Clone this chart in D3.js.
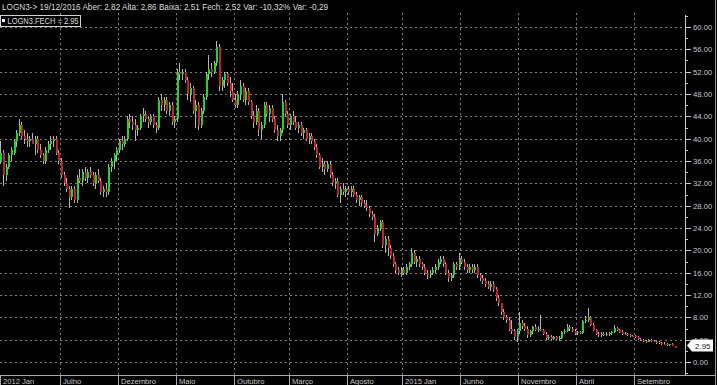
<!DOCTYPE html>
<html><head><meta charset="utf-8">
<script src="https://cdn.jsdelivr.net/npm/d3@7"></script>
<style>html,body{margin:0;padding:0;background:#000;overflow:hidden}</style>
</head><body><svg id="c" width="717" height="385"></svg>
<script>
// ---- DATA (weekly candles, LOGN3) ----
const firstWeek = "2012-01-23";
const opens = [
36,37.5,33.5,35,37,37.5,39.5,41,42.5,40.5,
40,39.5,40,39,40,38,37,36,38,39,
39.5,40,37.5,36,33.5,32,31,29.5,31,29,
33,32.5,34,33,34,33.5,32,33.5,32.5,30.5,
31,30.5,35,36,37,38,39.5,39,40,43.5,
43,42.5,41.5,42,44,44.5,43.5,43,44,42.5,
42,47,46,47,45,46,43,43.5,52,51.5,
52,50.5,48,49,45,46,42.5,45,47.5,51.5,
52.5,52,53.5,56.5,49.5,50.5,51.5,50,48.5,47,
46,48,49.5,47,48.5,46.5,44,43,45,41.5,
42.5,46,44.5,45.5,43.5,41.5,40.5,41.5,46.5,44.5,
42.5,44,43,42,42.5,41,41.5,40,40.5,39.5,
38.5,37,35,35.5,34.5,35.5,33.5,32,32.5,30,
31,30.5,31,30.5,31,30,29,29.5,28.5,28,
27.5,26.5,26,23,24,25,21,22,20.5,19,
17.5,16.5,16,16.5,16,17,17.5,19.5,18,18.5,
17.5,17,16,15.5,16,16.5,17,18,18.5,17.5,
16,15,15.5,17.5,17,18.5,18,17,16.5,17,
16.5,17,15.5,15,14.5,14,13.5,14,13,11.5,
10.5,9,8,7.5,6,5.5,4.5,5.5,7,6.5,
6,4.8,5.5,6.2,5.8,6,5.8,5,4.3,4.5,
4.2,4.4,4.2,4.3,5.3,5.6,6.2,6,5.5,5.2,
5.3,5.2,7.3,7.6,8,6.7,5.8,5,4.8,5.1,
4.9,5,5.2,5.4,6.1,5.7,5.4,5.1,5,4.8,
4.7,4.6,4.5,4.1,3.9,3.7,3.6,3.9,3.8,3.6,
3.5,3.4,3.3,3.2,3.1,3.2,2.82];
const highs = [
39.5,38,35.5,37.5,38.5,40,41.5,43.5,43,41.5,
41,40.5,41,40.5,40.5,39,37.5,38.5,39.5,40.5,
40.5,40.5,38,36.5,34,33,31.5,31.5,31.5,33.5,
34.5,34.5,35,34.5,35,34,34,34.5,33,31.5,
32,35.5,36.5,37.5,38.5,40,40.5,40.5,44,44.5,
44,43.5,42.5,44.5,45.5,45,44,44.5,44.5,43,
47.5,48,47.5,47.5,46.5,46.5,44,52.5,53.5,52.5,
52.5,51,50,49.5,47,46.5,45.5,48,52,55,
53.5,54,57.5,57,51,52,52,51,50,48,
48.5,50.5,50,49,49,47,45,46,45.5,43,
46.5,46.5,46,46,44,42.5,42,48,47,45,
44.5,45,44,43,43,42,42,41,41,40,
39,37.5,36.5,36,36,36,34,33,33,31.5,
32,31.5,31.5,31.5,31.5,30.5,30,30,29,29,
28,27,26.5,24.5,25.5,25.5,22.5,22.5,21,19.5,
18,17,17,17,17.5,18,20.5,20,19,19,
18,17.5,16.5,16.5,17,17.5,18.5,19,19,18,
16.5,16,18,18,19.5,19,18.5,17.5,17.5,17.5,
17.5,17.5,16,15.5,15,14.5,14.5,14.5,13.5,12,
10.5,9.5,8.5,8,7.5,6,6,9,7.5,7,
6.5,5.8,6.5,6.8,6.5,8.5,6,5.3,4.8,4.8,
4.6,4.7,4.6,5.5,6,6.8,6.6,6.3,5.9,5.6,
5.6,7.6,8.3,9.6,8.2,7,6,5.4,5.4,5.3,
5.3,5.3,5.6,6.6,6.3,6,5.7,5.4,5.2,5,
4.9,4.8,4.6,4.3,4.1,3.9,4.1,4.1,4,3.8,
3.7,3.6,3.5,3.4,3.3,3.4,2.86];
const lows = [
35.5,31.5,32.5,34.5,36,37,38.5,40.5,40,39,
38.5,38.5,39,37,37.5,36.5,35.5,35.5,37.5,38,
38.5,37,35.5,33,31.5,30.5,27.5,29,28.5,28.5,
32,31.5,32.5,32,33,31.5,31,32,30,29.5,
29.5,30,34,34.5,36,37.5,38,38.5,39.5,42,
41.5,39.5,40.5,41.5,43,43,42,42.5,42,41,
41.5,45,45,44.5,44,42.5,42,43,50.5,50.5,
50,47,46.5,44.5,42,41.5,42,44.5,47,50.5,
51,51.5,53,48.5,48.5,49,49.5,47.5,46.5,45.5,
45.5,47,46.5,46,46,43.5,42,42.5,40.5,40,
42,44,43,43,41,39.5,39.5,41,44,42,
41.5,42.5,41.5,41,40.5,40,39.5,39,39,38,
36.5,34.5,34,33.5,34,33,31.5,31,29.5,28.5,
30,29.5,30,29.5,29.5,28.5,28,28,27.5,27,
26,25.5,21.5,22.5,23.5,20.5,19.5,19,18.5,17,
16,15.5,15.2,15.5,15.5,16.5,17,17.5,17,17,
16.5,15.5,14.8,15,15.5,16,16.5,17.5,17,15.5,
14.3,14.5,15,16.5,16.5,17.5,16.5,16,16,16,
16,15,14.5,14,13.5,13,12.8,12.5,11,10,
8.5,7.5,7,5.5,5,4,3.6,5,6,5.5,
4.3,4.5,5,5.5,5.3,5.5,4.8,4,3.9,3.9,
3.9,4,3.8,4.1,5,5.3,5.6,5.3,4.9,4.9,
5,5.1,7,7.2,6.5,5.5,4.8,4.5,4.5,4.6,
4.6,4.7,4.9,5.2,5.5,5.2,4.9,4.8,4.6,4.5,
4.4,4.3,3.9,3.7,3.5,3.4,3.5,3.6,3.5,3.3,
3.2,3.1,3,2.9,2.9,2.9,2.51];
const closes = [
37.5,33.5,35,37,38,39.5,41,42.5,40.5,40,
39.5,40,39,40,38,37,36,38,39,39.5,
40,37.5,36,33.5,32,31,29.5,31,29,33,
32.5,34,33,34,33.5,32,33.5,32.5,30.5,31,
30.5,35,36,37,38,39.5,39,40,43.5,43,
42.5,41.5,42,44,44.5,43.5,43,44,42.5,42,
47,46,47,45,46,43,43.5,52,51.5,52,
50.5,48,49,45,46,42.5,45,47.5,51.5,52.5,
52,53.5,56.5,49.5,50.5,51.5,50,48.5,47,46,
48,49.5,47,48.5,46.5,44,43,45,41.5,42.5,
46,44.5,45.5,43.5,41.5,40.5,41.5,46.5,44.5,42.5,
44,43,42,42.5,41,41.5,40,40.5,39.5,38.5,
37,35,35.5,34.5,35.5,33.5,32,32.5,30,31,
30.5,31,30.5,31,30,29,29.5,28.5,28,27.5,
26.5,26,23,24,25,21,22,20.5,19,17.5,
16.5,16,16.5,16,17,17.5,19.5,18,18.5,17.5,
17,16,15.5,16,16.5,17,18,18.5,17.5,16,
15,15.5,17.5,17,18.5,18,17,16.5,17,16.5,
17,15.5,15,14.5,14,13.5,14,13,11.5,10.5,
9,8,7.5,6,5.5,4.5,5.5,7,6.5,6,
4.8,5.5,6.2,5.8,6,5.8,5,4.3,4.5,4.2,
4.4,4.2,4.3,5.3,5.6,6.2,6,5.5,5.2,5.3,
5.2,7.3,7.6,8,6.7,5.8,5,4.8,5.1,4.9,
5,5.2,5.4,6.1,5.7,5.4,5.1,5,4.8,4.7,
4.6,4.5,4.1,3.9,3.7,3.6,3.9,3.8,3.6,3.5,
3.4,3.3,3.2,3.1,3.2,2.95,2.52];

const yTickValues = [0,4,8,12,16,20,24,28,32,36,40,44,48,52,56,60];
const xTickDates  = ["2012-01-23","2012-07-02","2012-12-03","2013-05-06","2013-10-07","2014-03-03","2014-08-04","2014-12-29","2015-06-01","2015-11-02","2016-04-04","2016-09-05"];
const xTickLabels = ["2012 Jan","Julho","Dezembro","Maio","Outubro","Março","Agosto","2015 Jan","Junho","Novembro","Abril","Setembro"];
const headerText = "LOGN3-> 19/12/2016 Aber: 2,82 Alta: 2,86 Baixa: 2,51 Fech: 2,52 Var: -10,32% Var: -0,29";
const legendText = "LOGN3.FECH = 2.95";
const lastValue = 2.95;

// ---- CHART ----
const parse = d3.timeParse("%Y-%m-%d");
const start = parse(firstWeek);
const data = opens.map((o,i)=>({date:d3.timeMonday.offset(start,i),o,h:highs[i],l:lows[i],c:closes[i]}));

const svg = d3.select("#c");
svg.append("rect").attr("width",717).attr("height",385).attr("fill","#000");

const x = d3.scaleTime().domain([parse("2012-01-22"), parse("2017-01-13")]).range([0,684]);
const y = d3.scaleLinear().domain([0,60]).range([362,27]);

const gridCol = "#7c7c7c";
// horizontal grid
svg.append("g").selectAll("line").data(yTickValues).join("line")
  .attr("x1",0).attr("x2",684)
  .attr("y1",d=>Math.round(y(d))+0.5).attr("y2",d=>Math.round(y(d))+0.5)
  .attr("stroke",gridCol).attr("stroke-dasharray","2,3");
// vertical grid
const xt = xTickDates.map(parse);
svg.append("g").selectAll("line").data(xt.slice(1)).join("line")
  .attr("x1",d=>Math.round(x(d))-0.5).attr("x2",d=>Math.round(x(d))-0.5)
  .attr("y1",13).attr("y2",375)
  .attr("stroke",gridCol).attr("stroke-dasharray","2,3");

// candles
const cg = svg.append("g").attr("shape-rendering","crispEdges");
const cand = cg.selectAll("g").data(data).join("g");
cand.append("line")
  .attr("x1",d=>Math.round(x(d.date))+0.5).attr("x2",d=>Math.round(x(d.date))+0.5)
  .attr("y1",d=>y(d.h)).attr("y2",d=>y(d.l))
  .attr("stroke","#b4b4b4").attr("stroke-width",1);
cand.append("rect")
  .attr("x",d=>Math.round(x(d.date))-0.0)
  .attr("width",2)
  .attr("y",d=>y(Math.max(d.o,d.c)))
  .attr("height",d=>Math.max(1,Math.abs(y(d.o)-y(d.c))))
  .attr("fill",d=>d.c>=d.o?"#27d227":"#c0232b");

// y axis
const ax = svg.append("g").attr("shape-rendering","crispEdges");
ax.append("line").attr("x1",685.5).attr("x2",685.5).attr("y1",15).attr("y2",375).attr("stroke","#c8c8c8");
const minor = d3.range(-2,63,2);
ax.selectAll("line.t").data(minor).join("line").attr("class","t")
  .attr("x1",685).attr("x2",d=>d%4===0?691:688)
  .attr("y1",d=>Math.round(y(d))+0.5).attr("y2",d=>Math.round(y(d))+0.5)
  .attr("stroke","#c8c8c8");
ax.selectAll("text").data(yTickValues).join("text")
  .attr("x",693).attr("y",d=>y(d)+3)
  .attr("fill","#c4c8d0").attr("font-family","Liberation Sans, Arial, sans-serif").attr("font-size","7.7px")
  .text(d=>d3.format(".2f")(d));

// right border
svg.append("line").attr("x1",715.5).attr("x2",715.5).attr("y1",0).attr("y2",385).attr("stroke","#9a9a9a");

// x axis strip
const xs = svg.append("g").attr("shape-rendering","crispEdges");
xs.append("line").attr("x1",0).attr("x2",716).attr("y1",375.5).attr("y2",375.5).attr("stroke","#a8a8a8");
xt.forEach((d,i)=>{
  const px = i===0?0.5:Math.round(x(d))-0.5;
  xs.append("line").attr("x1",px).attr("x2",px).attr("y1",375).attr("y2",385).attr("stroke","#a8a8a8");
  xs.append("text").attr("x",px+2.5).attr("y",383.5)
    .attr("fill","#c8c8c8").attr("font-family","Liberation Sans, Arial, sans-serif").attr("font-size","7.6px")
    .text(xTickLabels[i]);
});

// last value marker
const ly = y(lastValue);
svg.append("path")
  .attr("d",`M687,${ly} L692,${ly-6} L713,${ly-6} L713,${ly+6} L692,${ly+6} Z`)
  .attr("fill","#ffffff");
svg.append("text").attr("x",695).attr("y",ly+3)
  .attr("fill","#222").attr("font-family","Liberation Sans, Arial, sans-serif").attr("font-size","8px")
  .text(d3.format(".2f")(lastValue));

// header
svg.append("text").attr("x",2).attr("y",9.5)
  .attr("fill","#dcdcdc").attr("font-family","Liberation Sans, Arial, sans-serif").attr("font-size","8.2px")
  .attr("textLength",326).attr("lengthAdjust","spacingAndGlyphs")
  .text(headerText);
svg.append("rect").attr("x",0.5).attr("y",15.5).attr("width",80).attr("height",11)
  .attr("fill","none").attr("stroke","#cfcfcf").attr("shape-rendering","crispEdges");
svg.append("rect").attr("x",2).attr("y",19).attr("width",3).attr("height",3).attr("fill","#ffffff");
svg.append("text").attr("x",7.5).attr("y",24.3)
  .attr("fill","#dcdcdc").attr("font-family","Liberation Sans, Arial, sans-serif").attr("font-size","8.2px")
  .attr("textLength",71).attr("lengthAdjust","spacingAndGlyphs")
  .text(legendText);
</script></body></html>
